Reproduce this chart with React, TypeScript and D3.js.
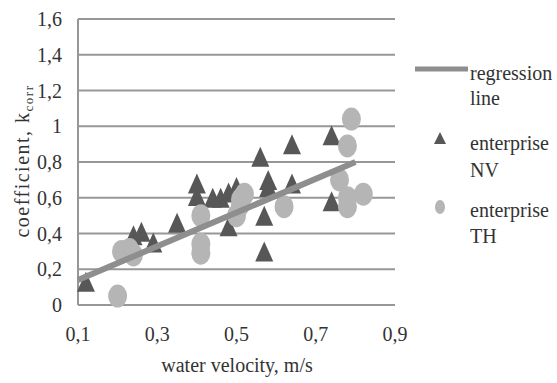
import * as d3 from "d3";

// enterprise NV (triangles)
const nvX = [0.12, 0.24, 0.26, 0.29, 0.35, 0.40, 0.40, 0.44, 0.46, 0.48, 0.48, 0.50, 0.56, 0.58, 0.58, 0.57, 0.57, 0.64, 0.64, 0.74, 0.74];
const nvY = [0.13, 0.39, 0.41, 0.35, 0.46, 0.68, 0.61, 0.60, 0.60, 0.63, 0.44, 0.66, 0.83, 0.70, 0.66, 0.50, 0.30, 0.90, 0.68, 0.95, 0.58];

// enterprise TH (circles)
const thX = [0.20, 0.21, 0.23, 0.24, 0.41, 0.41, 0.41, 0.50, 0.51, 0.51, 0.52, 0.62, 0.76, 0.78, 0.78, 0.82, 0.78, 0.79];
const thY = [0.05, 0.30, 0.31, 0.28, 0.50, 0.34, 0.29, 0.50, 0.56, 0.59, 0.62, 0.55, 0.70, 0.60, 0.55, 0.62, 0.89, 1.04];

// regression line end points
const regX = [0.1, 0.8];
const regY = [0.14, 0.8];

const yTicks = [0, 0.2, 0.4, 0.6, 0.8, 1, 1.2, 1.4, 1.6];
const xTicks = [0.1, 0.3, 0.5, 0.7, 0.9];

const fmt = (v: number) => String(v).replace(".", ",");

export default function App() {
  const width = 557;
  const height = 383;
  const font = "'Liberation Serif', 'Times New Roman', serif";

  const x = d3.scaleLinear().domain([0.1, 0.9]).range([78, 395]);
  const y = d3.scaleLinear().domain([0, 1.6]).range([305, 19]);

  const line = d3
    .line<number>()
    .x((d) => x(d))
    .y((_, i) => y(regY[i]));

  const tri = (cx: number, cy: number, w: number, h: number) =>
    `M${cx - w / 2},${cy + h / 2}L${cx + w / 2},${cy + h / 2}L${cx},${cy - h / 2}Z`;

  const gridColor = "#979797";
  const nvColor = "#575757";
  const thColor = "#b5b5b5";
  const regColor = "#8e8e8e";

  return (
    <svg
      width={width}
      height={height}
      style={{ position: "absolute", left: 0, top: 0, background: "#fff" }}
      fontFamily={font}
    >
      {yTicks.map((t) => (
        <g key={t}>
          <line x1={x(0.1)} x2={x(0.9)} y1={y(t)} y2={y(t)} stroke={gridColor} strokeWidth={2} />
          <text x={62} y={y(t) + 7} textAnchor="end" fontSize={20} fill="#333">
            {fmt(t)}
          </text>
        </g>
      ))}
      <line x1={x(0.1)} x2={x(0.1)} y1={y(0)} y2={y(1.6)} stroke={gridColor} strokeWidth={2} />
      {xTicks.map((t) => (
        <text key={t} x={x(t)} y={341} textAnchor="middle" fontSize={20} fill="#333">
          {fmt(t)}
        </text>
      ))}

      {nvX.map((v, i) => (
        <path key={"nv" + i} d={tri(x(v), y(nvY[i]), 18, 20)} fill={nvColor} />
      ))}
      {thX.map((v, i) => (
        <ellipse key={"th" + i} cx={x(v)} cy={y(thY[i])} rx={9.5} ry={11.5} fill={thColor} />
      ))}
      <path d={line(regX) ?? undefined} stroke={regColor} strokeWidth={6} fill="none" />

      <text x={237} y={372} textAnchor="middle" fontSize={20} fill="#333">
        water velocity, m/s
      </text>
      <text
        transform="translate(29,161) rotate(-90)"
        textAnchor="middle"
        fontSize={20}
        fill="#333"
        letterSpacing={1.5}
      >
        coefficient, k<tspan fontSize={13} dy={4}>corr</tspan>
      </text>

      <line x1={415} x2={468} y1={69} y2={69} stroke={regColor} strokeWidth={5} />
      <text x={470} y={80} fontSize={20} fill="#333">regression</text>
      <text x={470} y={105} fontSize={20} fill="#333">line</text>
      <path d={tri(440, 138, 12, 12)} fill={nvColor} />
      <text x={470} y={150} fontSize={20} fill="#333">enterprise</text>
      <text x={470} y={177} fontSize={20} fill="#333">NV</text>
      <ellipse cx={440} cy={207} rx={5} ry={7} fill={thColor} />
      <text x={470} y={217} fontSize={20} fill="#333">enterprise</text>
      <text x={470} y={243} fontSize={20} fill="#333">TH</text>
    </svg>
  );
}
